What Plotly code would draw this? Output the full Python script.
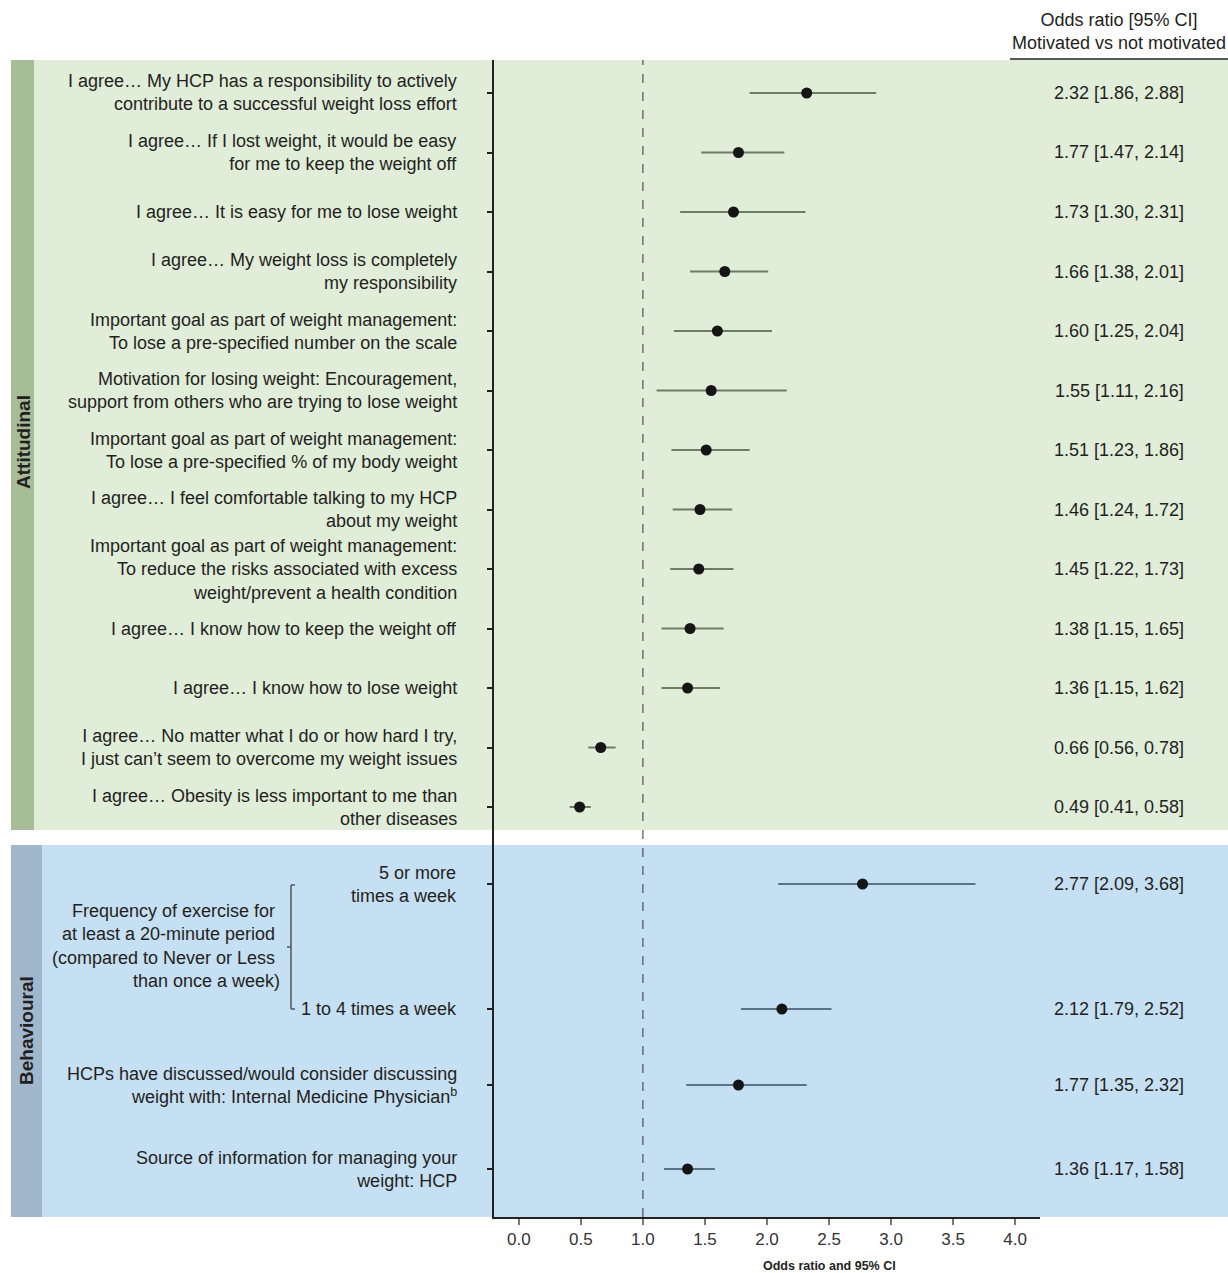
import plotly.graph_objects as go

W, H = 1228, 1273

# ---------------- data ----------------
att_labels = [
    "I agree… My HCP has a responsibility to actively<br>contribute to a successful weight loss effort",
    "I agree… If I lost weight, it would be easy<br>for me to keep the weight off",
    "I agree… It is easy for me to lose weight",
    "I agree… My weight loss is completely<br>my responsibility",
    "Important goal as part of weight management:<br>To lose a pre-specified number on the scale",
    "Motivation for losing weight: Encouragement,<br>support from others who are trying to lose weight",
    "Important goal as part of weight management:<br>To lose a pre-specified % of my body weight",
    "I agree… I feel comfortable talking to my HCP<br>about my weight",
    "Important goal as part of weight management:<br>To reduce the risks associated with excess<br>weight/prevent a health condition",
    "I agree… I know how to keep the weight off",
    "I agree… I know how to lose weight",
    "I agree… No matter what I do or how hard I try,<br>I just can’t seem to overcome my weight issues",
    "I agree… Obesity is less important to me than<br>other diseases",
]
att_or = [2.32, 1.77, 1.73, 1.66, 1.60, 1.55, 1.51, 1.46, 1.45, 1.38, 1.36, 0.66, 0.49]
att_lo = [1.86, 1.47, 1.30, 1.38, 1.25, 1.11, 1.23, 1.24, 1.22, 1.15, 1.15, 0.56, 0.41]
att_hi = [2.88, 2.14, 2.31, 2.01, 2.04, 2.16, 1.86, 1.72, 1.73, 1.65, 1.62, 0.78, 0.58]

beh_labels = [
    "5 or more<br>times a week",
    "1 to 4 times a week",
    "HCPs have discussed/would consider discussing<br>weight with: Internal Medicine Physician<sup>b</sup>",
    "Source of information for managing your<br>weight: HCP",
]
beh_or = [2.77, 2.12, 1.77, 1.36]
beh_lo = [2.09, 1.79, 1.35, 1.17]
beh_hi = [3.68, 2.52, 2.32, 1.58]

group_label = "Frequency of exercise for\u00a0<br>at least a 20-minute period\u00a0<br>(compared to Never or Less\u00a0<br>than once a week)"
header = "Odds ratio [95% CI]<br>Motivated vs not motivated"
x_title = "<b>Odds ratio and 95% CI</b>"
x_ticks = [0.0, 0.5, 1.0, 1.5, 2.0, 2.5, 3.0, 3.5, 4.0]

# ---------------- layout (row slots, px from plot top) ----------------
att_pos = [33 + i * 59.5 for i in range(len(att_labels))]
beh_pos = [824, 949, 1025, 1109]

def px(x):
    return x / W

def py(y):
    return 1 - y / H

FONT = "Liberation Sans, Arial, sans-serif"
TXT = "#231f20"

fig = go.Figure()

fig.add_trace(go.Scatter(
    x=att_or, y=att_pos, mode="markers",
    marker=dict(color="#151515", size=11),
    error_x=dict(type="data", symmetric=False,
                 array=[h - o for h, o in zip(att_hi, att_or)],
                 arrayminus=[o - l for o, l in zip(att_or, att_lo)],
                 color="#6e7d62", thickness=2, width=0),
    showlegend=False, hoverinfo="skip"))

fig.add_trace(go.Scatter(
    x=beh_or, y=beh_pos, mode="markers",
    marker=dict(color="#151515", size=11),
    error_x=dict(type="data", symmetric=False,
                 array=[h - o for h, o in zip(beh_hi, beh_or)],
                 arrayminus=[o - l for o, l in zip(beh_or, beh_lo)],
                 color="#587388", thickness=2, width=0),
    showlegend=False, hoverinfo="skip"))

shapes = [
    # backgrounds
    dict(type="rect", xref="paper", yref="paper", x0=px(11), x1=px(1228), y0=py(830), y1=py(60),
         fillcolor="#e0edd8", line=dict(width=0), layer="below"),
    dict(type="rect", xref="paper", yref="paper", x0=px(11), x1=px(34), y0=py(830), y1=py(60),
         fillcolor="#a7bd98", line=dict(width=0), layer="below"),
    dict(type="rect", xref="paper", yref="paper", x0=px(11), x1=px(1228), y0=py(1217), y1=py(845),
         fillcolor="#c5e0f2", line=dict(width=0), layer="below"),
    dict(type="rect", xref="paper", yref="paper", x0=px(11), x1=px(42), y0=py(1217), y1=py(845),
         fillcolor="#a1b8cc", line=dict(width=0), layer="below"),
    # reference line at OR = 1
    dict(type="line", xref="x", yref="y domain", x0=1, x1=1, y0=0, y1=1,
         line=dict(color="#333333", width=1, dash="dash")),
    # header underline
    dict(type="line", xref="paper", yref="paper", x0=px(1010), x1=px(1228), y0=py(59), y1=py(59),
         line=dict(color="#222222", width=1.5)),
    # bracket
    dict(type="line", xref="paper", yref="paper", x0=px(291), x1=px(291), y0=py(885), y1=py(1009),
         line=dict(color="#555555", width=1.5)),
    dict(type="line", xref="paper", yref="paper", x0=px(291), x1=px(295), y0=py(885), y1=py(885),
         line=dict(color="#555555", width=1.5)),
    dict(type="line", xref="paper", yref="paper", x0=px(291), x1=px(295), y0=py(1009), y1=py(1009),
         line=dict(color="#555555", width=1.5)),
    dict(type="line", xref="paper", yref="paper", x0=px(287), x1=px(291), y0=py(947), y1=py(947),
         line=dict(color="#555555", width=1.5)),
]

annotations = []
for lab, pos in zip(att_labels + beh_labels, att_pos + beh_pos):
    annotations.append(dict(text=lab, x=px(459), xref="paper", y=pos, yref="y",
                            xanchor="right", yanchor="middle", align="right", showarrow=False,
                            font=dict(size=18, color=TXT, family=FONT)))
for o, l, h, pos in zip(att_or + beh_or, att_lo + beh_lo, att_hi + beh_hi, att_pos + beh_pos):
    annotations.append(dict(text=f"{o:.2f} [{l:.2f}, {h:.2f}]", x=px(1119), xref="paper", y=pos, yref="y",
                            xanchor="center", yanchor="middle", showarrow=False,
                            font=dict(size=18, color=TXT, family=FONT)))
annotations += [
    dict(text=group_label, x=px(282), xref="paper", y=py(946), yref="paper",
         xanchor="right", yanchor="middle", align="right", showarrow=False,
         font=dict(size=18, color=TXT, family=FONT)),
    dict(text=header, x=px(1119), xref="paper", y=py(31), yref="paper",
         xanchor="center", yanchor="middle", align="center", showarrow=False,
         font=dict(size=18, color=TXT, family=FONT)),
    dict(text="<b>Attitudinal</b>", x=px(23), xref="paper", y=py(442), yref="paper",
         textangle=-90, xanchor="center", yanchor="middle", showarrow=False,
         font=dict(size=19, color=TXT, family=FONT)),
    dict(text="<b>Behavioural</b>", x=px(26), xref="paper", y=py(1031), yref="paper",
         textangle=-90, xanchor="center", yanchor="middle", showarrow=False,
         font=dict(size=19, color=TXT, family=FONT)),
    dict(text=x_title, x=px(829), xref="paper", y=py(1266), yref="paper",
         xanchor="center", yanchor="middle", showarrow=False,
         font=dict(size=12.5, color=TXT, family=FONT)),
]

fig.update_layout(
    width=W, height=H, autosize=False,
    margin=dict(l=0, r=0, t=0, b=0),
    paper_bgcolor="white", plot_bgcolor="rgba(0,0,0,0)",
    shapes=shapes, annotations=annotations,
    font=dict(family=FONT, color=TXT),
    xaxis=dict(domain=[px(494), px(1040)], range=[-0.2, 4.2],
               tickvals=x_ticks, ticktext=[f"{v:.1f}" for v in x_ticks],
               showgrid=False, zeroline=False, fixedrange=True,
               showline=True, linecolor="#222222", linewidth=2,
               ticks="outside", ticklen=6, tickwidth=1.5, tickcolor="#777777",
               tickfont=dict(size=17, color="#333333", family=FONT)),
    yaxis=dict(domain=[py(1217), py(60)], range=[1157, 0],
               tickvals=att_pos + beh_pos, showticklabels=False,
               showgrid=False, zeroline=False, fixedrange=True,
               showline=True, linecolor="#222222", linewidth=2,
               ticks="outside", ticklen=5, tickwidth=2, tickcolor="#222222"),
)

fig.write_html("out.html", config={"displayModeBar": False},
               post_script="document.body.style.margin='0';document.body.style.padding='0';document.body.style.overflow='hidden';")
